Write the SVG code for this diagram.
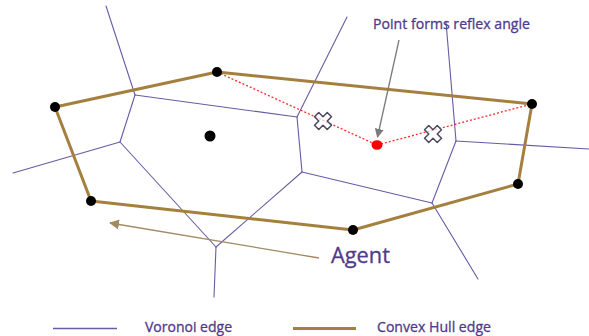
<svg xmlns="http://www.w3.org/2000/svg" width="589" height="336" viewBox="0 0 589 336">
  <defs>
    <style>
      .vor { stroke: #6a5aa3; stroke-width: 1.1; fill: none; stroke-linecap: round; }
      .hull { stroke: #a57f3e; stroke-width: 3; fill: none; stroke-linejoin: round; stroke-linecap: round; }
      .vertex { fill: #000000; }
      .reflex { stroke: #ff2a2a; stroke-width: 1.3; stroke-dasharray: 2 2; fill: none; }
      .label { font-family: "Open Sans", "Liberation Sans", sans-serif; fill: #4f3a8c; stroke: #4f3a8c; stroke-width: 0.3; }
      .cross { fill: #ffffff; fill-opacity: 0.7; stroke: #4d4760; stroke-width: 1.5; stroke-linejoin: round; }
    </style>
    <marker id="agentHead" viewBox="0 0 10 10" refX="9" refY="5" markerWidth="10" markerHeight="10" markerUnits="userSpaceOnUse" orient="auto">
      <path d="M0,0 L10,5 L0,10 Z" fill="#a38a62"/>
    </marker>
    <marker id="greyHead" viewBox="0 0 10 10" refX="9" refY="5" markerWidth="9" markerHeight="9" markerUnits="userSpaceOnUse" orient="auto">
      <path d="M0,0 L10,5 L0,10 Z" fill="#7a7a7a"/>
    </marker>
    <path id="xmark" d="M-3,-9 L3,-9 L3,-3 L9,-3 L9,3 L3,3 L3,9 L-3,9 L-3,3 L-9,3 L-9,-3 L-3,-3 Z"/>
  </defs>

  <!-- Voronoi edges -->
  <g id="voronoi">
    <line class="vor" x1="106" y1="6" x2="135" y2="95"/>
    <line class="vor" x1="135" y1="95" x2="297" y2="117"/>
    <line class="vor" x1="135" y1="95" x2="120" y2="142"/>
    <line class="vor" x1="120" y1="142" x2="13" y2="173"/>
    <line class="vor" x1="120" y1="142" x2="216" y2="247"/>
    <line class="vor" x1="216" y1="247" x2="214" y2="297"/>
    <line class="vor" x1="216" y1="247" x2="302" y2="172"/>
    <line class="vor" x1="302" y1="172" x2="297" y2="117"/>
    <line class="vor" x1="297" y1="117" x2="347" y2="17"/>
    <line class="vor" x1="302" y1="172" x2="432" y2="203"/>
    <line class="vor" x1="432" y1="203" x2="478" y2="279"/>
    <line class="vor" x1="432" y1="203" x2="456" y2="141"/>
    <line class="vor" x1="456" y1="141" x2="589" y2="149"/>
    <line class="vor" x1="456" y1="141" x2="446" y2="22"/>
  </g>

  <!-- Convex hull -->
  <g id="hull">
    <polygon class="hull" points="217,72 55,107 91,201 353,230 518,184 532,104"/>
  </g>

  <!-- Connectors -->
  <g id="connectors">
    <polyline class="reflex" points="217,72 377,145 532,104"/>
    <line x1="399" y1="40" x2="377.5" y2="137" stroke="#7a7a7a" stroke-width="1.3" marker-end="url(#greyHead)"/>
    <line x1="319" y1="258" x2="110" y2="223" stroke="#a38a62" stroke-width="1.3" marker-end="url(#agentHead)"/>
  </g>

  <!-- Rejected candidate markers -->
  <g id="cross-left"><use href="#xmark" class="cross" transform="translate(323,121) rotate(45)"/></g>
  <g id="cross-right"><use href="#xmark" class="cross" transform="translate(433,134) rotate(45)"/></g>

  <!-- Points -->
  <g id="points">
    <circle class="vertex" cx="217" cy="72" r="5"/>
    <circle class="vertex" cx="55" cy="107" r="5"/>
    <circle class="vertex" cx="91" cy="201" r="5"/>
    <circle class="vertex" cx="353" cy="230" r="5"/>
    <circle class="vertex" cx="518" cy="184" r="5"/>
    <circle class="vertex" cx="532" cy="104" r="5"/>
    <circle class="vertex" cx="210" cy="136" r="5.5"/>
  </g>
  <g id="reflex-point">
    <ellipse cx="377" cy="145" rx="5.5" ry="4.8" fill="#ff0000"/>
  </g>

  <!-- Labels -->
  <g id="label-reflex">
    <text class="label" x="373" y="29" font-size="14.5" textLength="157" lengthAdjust="spacingAndGlyphs">Point forms reflex angle</text>
  </g>
  <g id="label-agent">
    <text class="label" x="331" y="263" font-size="22" textLength="59" lengthAdjust="spacingAndGlyphs">Agent</text>
  </g>

  <!-- Legend -->
  <g id="legend">
    <line x1="53" y1="328.5" x2="117" y2="328.5" stroke="#6a5aa3" stroke-width="1.5"/>
    <text class="label" x="145" y="332" font-size="14" textLength="87" lengthAdjust="spacingAndGlyphs">Voronoi edge</text>
    <line x1="293" y1="328.5" x2="356" y2="328.5" stroke="#a57f3e" stroke-width="3"/>
    <text class="label" x="377" y="332" font-size="14" textLength="114" lengthAdjust="spacingAndGlyphs">Convex Hull edge</text>
  </g>
</svg>
